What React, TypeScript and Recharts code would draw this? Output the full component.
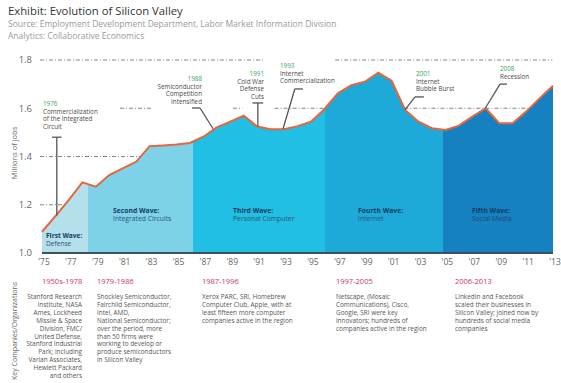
import { Area, AreaChart, ReferenceLine, XAxis, YAxis } from "recharts";

const FONT = "'Open Sans', 'Noto Sans', sans-serif";

const YEARS = [
  1975, 1976, 1977, 1978, 1979, 1980, 1981, 1982, 1983, 1984, 1985, 1986, 1987,
  1988, 1989, 1990, 1991, 1992, 1993, 1994, 1995, 1996, 1997, 1998, 1999, 2000,
  2001, 2002, 2003, 2004, 2005, 2006, 2007, 2008, 2009, 2010, 2011, 2012, 2013,
];
// millions of jobs
const JOBS = [
  1.088, 1.153, 1.22, 1.293, 1.275, 1.323, 1.351, 1.378, 1.443, 1.446, 1.45,
  1.456, 1.482, 1.521, 1.544, 1.569, 1.524, 1.513, 1.513, 1.526, 1.544, 1.596,
  1.662, 1.696, 1.71, 1.747, 1.714, 1.593, 1.544, 1.517, 1.51, 1.528, 1.565,
  1.6, 1.538, 1.538, 1.586, 1.641, 1.693,
];
const X_TICKS = [
  1975, 1977, 1979, 1981, 1983, 1985, 1987, 1989, 1991, 1993, 1995, 1997, 1999,
  2001, 2003, 2005, 2007, 2009, 2011, 2013,
];
const Y_TICKS = [1.0, 1.2, 1.4, 1.6, 1.8];

// where one wave hands over to the next, in years
const WAVE_BREAKS = [1978.4, 1986.2, 1996.05, 2004.8];
const WAVE_COLORS = ["#b4e0ec", "#7dd2e8", "#20bfe3", "#1eaad9", "#1681c1"];

// dashed guide lines, broken where the notes sit
const GRID_SEGMENTS = [
  { y: 1.2, from: 1974.85, to: 1976.7 },
  { y: 1.4, from: 1974.85, to: 1982.35 },
  { y: 1.6, from: 1980.8, to: 1983.2 },
  { y: 1.6, from: 1989.2, to: 1989.9 },
  { y: 1.6, from: 1992.3, to: 1996.05 },
  { y: 1.6, from: 2001.95, to: 2011.2 },
  { y: 1.8, from: 1974.85, to: 1991.45 },
  { y: 1.8, from: 1996.8, to: 2012.95 },
];

// leader lines for the event notes: [x1, y1, x2, y2]
const LEADERS = [
  [1976.1, 1.48, 1976.1, 1.155],
  [1975.75, 1.48, 1976.45, 1.48],
  [1986.15, 1.601, 1986.75, 1.601],
  [1986.75, 1.601, 1987.72, 1.515],
  [1991.05, 1.622, 1991.05, 1.524],
  [1990.65, 1.622, 1991.45, 1.622],
  [1994.4, 1.68, 1993.8, 1.68],
  [1993.8, 1.68, 1992.92, 1.514],
  [2003.4, 1.647, 2002.74, 1.647],
  [2002.74, 1.647, 2001.99, 1.593],
  [2009.58, 1.7, 2009.06, 1.7],
  [2009.06, 1.7, 2007.96, 1.6],
];

const data = YEARS.map((year, i) => ({ year, jobs: JOBS[i] }));
const span = YEARS[YEARS.length - 1] - YEARS[0];

function gradientStops() {
  const edges = [YEARS[0], ...WAVE_BREAKS, YEARS[YEARS.length - 1]];
  const stops: JSX.Element[] = [];
  WAVE_COLORS.forEach((c, i) => {
    const a = ((edges[i] - YEARS[0]) / span) * 100;
    const b = ((edges[i + 1] - YEARS[0]) / span) * 100;
    stops.push(<stop key={`a${i}`} offset={`${a}%`} stopColor={c} />);
    stops.push(<stop key={`b${i}`} offset={`${b}%`} stopColor={c} />);
  });
  return stops;
}

function Lines({
  x,
  y,
  lines,
  step = 7.6,
  size = 6.3,
  fill = "#4a4a4a",
  anchor = "start",
  weight = 400,
}: {
  x: number;
  y: number;
  lines: string[];
  step?: number;
  size?: number;
  fill?: string;
  anchor?: "start" | "end" | "middle";
  weight?: number;
}) {
  return (
    <>
      {lines.map((t, i) => (
        <text
          key={i}
          x={x}
          y={y + i * step}
          fontSize={size}
          fill={fill}
          textAnchor={anchor}
          fontWeight={weight}
          fontFamily={FONT}
        >
          {t}
        </text>
      ))}
    </>
  );
}

const GREEN = "#34a45a";
const NAVY = "#163a60";
const PERIOD = "#c7355c";
const BODY = "#555";

function Overlay() {
  return (
    <svg
      width={561}
      height={383}
      style={{ position: "absolute", left: 0, top: 0, pointerEvents: "none" }}
    >
      <text x={8} y={15} fontSize={11.3} fill="#333" fontFamily={FONT}>
        Exhibit: Evolution of Silicon Valley
      </text>
      <text x={8} y={27} fontSize={8.5} fill="#9a9a9a" fontFamily={FONT}>
        Source: Employment Development Department, Labor Market Information Division
      </text>
      <text x={8} y={38.5} fontSize={8.5} fill="#9a9a9a" fontFamily={FONT}>
        Analytics: Collaborative Economics
      </text>

      <text
        transform="translate(17,153) rotate(-90)"
        textAnchor="middle"
        fontSize={7.5}
        fill="#666"
        fontFamily={FONT}
      >
        Millions of jobs
      </text>
      <text
        transform="translate(17,331) rotate(-90)"
        textAnchor="middle"
        fontSize={7}
        fill="#666"
        fontFamily={FONT}
      >
        Key Companies/Organizations
      </text>

      {/* event notes */}
      <Lines x={43} y={106} lines={["1976"]} fill={GREEN} />
      <Lines x={43} y={113.6} lines={["Commercialization", "of the Integrated", "Circuit"]} />
      <Lines x={202} y={81} anchor="end" lines={["1988"]} fill={GREEN} />
      <Lines x={202} y={88.6} anchor="end" lines={["Semiconductor", "Competition", "Intensified"]} />
      <Lines x={264} y={76} anchor="end" lines={["1991"]} fill={GREEN} />
      <Lines x={264} y={83.6} anchor="end" lines={["Cold War", "Defense", "Cuts"]} />
      <Lines x={280} y={68} lines={["1993"]} fill={GREEN} />
      <Lines x={280} y={75.6} lines={["Internet", "Commercialization"]} />
      <Lines x={416} y={76} lines={["2001"]} fill={GREEN} />
      <Lines x={416} y={83.6} lines={["Internet", "Bubble Burst"]} />
      <Lines x={500} y={71} lines={["2008"]} fill={GREEN} />
      <Lines x={500} y={78.6} lines={["Recession"]} />

      {/* wave names */}
      <Lines x={46} y={237.5} size={6.6} lines={["First Wave:"]} fill={NAVY} weight={700} />
      <Lines x={46} y={245.5} size={6.6} lines={["Defense"]} fill="#2e5478" />
      <Lines x={113} y={213} size={6.8} lines={["Second Wave:"]} fill={NAVY} weight={700} />
      <Lines x={113} y={221.2} size={6.8} lines={["Integrated Circuits"]} fill="#2e5478" />
      <Lines x={233} y={213} size={6.8} lines={["Third Wave:"]} fill={NAVY} weight={700} />
      <Lines x={233} y={221.2} size={6.8} lines={["Personal Computer"]} fill="#2e5478" />
      <Lines x={358} y={213} size={6.8} lines={["Fourth Wave:"]} fill={NAVY} weight={700} />
      <Lines x={358} y={221.2} size={6.8} lines={["Internet"]} fill="#2e5478" />
      <Lines x={472} y={213} size={6.8} lines={["Fifth Wave:"]} fill={NAVY} weight={700} />
      <Lines x={472} y={221.2} size={6.8} lines={["Social Media"]} fill="#1f4a78" />

      {/* periods */}
      <Lines x={42} y={283.5} size={7.5} fill={PERIOD} lines={["1950s-1978"]} />
      <Lines x={97} y={283.5} size={7.5} fill={PERIOD} lines={["1979-1986"]} />
      <Lines x={202} y={283.5} size={7.5} fill={PERIOD} lines={["1987-1996"]} />
      <Lines x={336} y={283.5} size={7.5} fill={PERIOD} lines={["1997-2005"]} />
      <Lines x={455} y={283.5} size={7.5} fill={PERIOD} lines={["2006-2013"]} />

      {/* companies */}
      <Lines
        x={82}
        y={299}
        size={6.4}
        step={7.9}
        anchor="end"
        fill={BODY}
        lines={[
          "Stanford Research",
          "Institute, NASA",
          "Ames, Lockheed",
          "Missile & Space",
          "Division, FMC/",
          "United Defense,",
          "Stanford Industrial",
          "Park; including",
          "Varian Associates,",
          "Hewlett Packard",
          "and others",
        ]}
      />
      <Lines
        x={97}
        y={299}
        size={6.4}
        step={7.9}
        fill={BODY}
        lines={[
          "Shockley Semiconductor,",
          "Fairchild Semiconductor,",
          "Intel, AMD,",
          "National Semiconductor;",
          "over the period, more",
          "than 50 firms were",
          "working to develop or",
          "produce semiconductors",
          "in Silicon Valley",
        ]}
      />
      <Lines
        x={202}
        y={299}
        size={6.4}
        step={7.9}
        fill={BODY}
        lines={[
          "Xerox PARC, SRI, Homebrew",
          "Computer Club, Apple, with at",
          "least fifteen more computer",
          "companies active in the region",
        ]}
      />
      <Lines
        x={336}
        y={299}
        size={6.4}
        step={7.9}
        fill={BODY}
        lines={[
          "Netscape, (Mosaic",
          "Communications), Cisco,",
          "Google, SRI were key",
          "innovators; hundreds of",
          "companies active in the region",
        ]}
      />
      <Lines
        x={455}
        y={299}
        size={6.4}
        step={7.9}
        fill={BODY}
        lines={[
          "LinkedIn and Facebook",
          "scaled their businesses in",
          "Silicon Valley; joined now by",
          "hundreds of social media",
          "companies",
        ]}
      />
    </svg>
  );
}

export default function App() {
  return (
    <div
      style={{
        position: "absolute",
        left: 0,
        top: 0,
        width: 561,
        height: 383,
        background: "#fff",
        fontFamily: FONT,
      }}
    >
      <AreaChart
        width={561}
        height={383}
        data={data}
        margin={{ top: 60, right: 8, bottom: 100, left: 0 }}
      >
        <defs>
          <linearGradient id="waves" x1="0" y1="0" x2="1" y2="0">
            {gradientStops()}
          </linearGradient>
        </defs>
        <XAxis
          dataKey="year"
          type="number"
          domain={[1975, 2013]}
          ticks={X_TICKS}
          tickFormatter={(v) => `'${String(v).slice(2)}`}
          axisLine={{ stroke: "#3d525c", strokeWidth: 2 }}
          tickLine={false}
          tickMargin={0}
          height={30}
          tick={{ fontSize: 8.5, fill: "#666", fontFamily: FONT, dx: 2 }}
        />
        <YAxis
          type="number"
          domain={[1, 1.8]}
          ticks={Y_TICKS}
          tickFormatter={(v) => v.toFixed(1)}
          axisLine={false}
          tickLine={false}
          tickMargin={4}
          width={42}
          tick={{ fontSize: 9.5, fill: "#666", fontFamily: FONT }}
        />
        {GRID_SEGMENTS.map((g, i) => (
          <ReferenceLine
            key={`g${i}`}
            segment={[
              { x: g.from, y: g.y },
              { x: g.to, y: g.y },
            ]}
            stroke="#7a878d"
            strokeDasharray="4 2 1 2"
            ifOverflow="visible"
          />
        ))}
        <Area
          type="linear"
          dataKey="jobs"
          baseValue={1}
          stroke="#e8643c"
          strokeWidth={2}
          fill="url(#waves)"
          fillOpacity={1}
          dot={false}
          activeDot={false}
          isAnimationActive={false}
        />
        {LEADERS.map((l, i) => (
          <ReferenceLine
            key={`l${i}`}
            segment={[
              { x: l[0], y: l[1] },
              { x: l[2], y: l[3] },
            ]}
            stroke="#555"
            strokeWidth={1.3}
            ifOverflow="visible"
          />
        ))}
      </AreaChart>
      <Overlay />
    </div>
  );
}
